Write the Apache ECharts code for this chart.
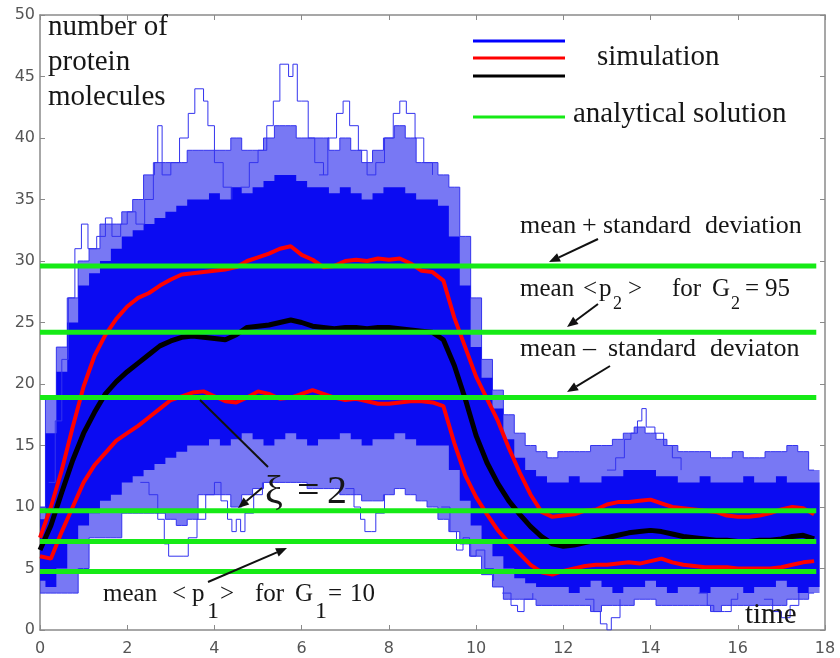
<!DOCTYPE html>
<html><head><meta charset="utf-8">
<script src="https://cdn.jsdelivr.net/npm/echarts@6/dist/echarts.min.js"></script>
<style>html,body{margin:0;padding:0;background:#fff}#c{width:840px;height:658px}</style>
</head><body><div id="c"></div><script>
// ---- data ----
const time = [0,0.25,0.5,0.75,1,1.25,1.5,1.75,2,2.25,2.5,2.75,3,3.25,3.5,3.75,4,4.25,4.5,4.75,5,5.25,5.5,5.75,6,6.25,6.5,6.75,7,7.25,7.5,7.75,8,8.25,8.5,8.75,9,9.25,9.5,9.75,10,10.25,10.5,10.75,11,11.25,11.5,11.75,12,12.25,12.5,12.75,13,13.25,13.5,13.75,14,14.25,14.5,14.75,15,15.25,15.5,15.75,16,16.25,16.5,16.75,17,17.25,17.5,17.75];
const meanSim = [6.5,8.5,11.2,13.8,16.0,17.7,19.2,20.2, 21.0,21.7,22.4,23.1,23.5,23.8,23.9,23.8, 23.7,23.6,24.0,24.6,24.7,24.8,25.0,25.2, 25.0,24.7,24.6,24.5,24.6,24.6,24.5,24.6, 24.6,24.5,24.4,24.3,24.2,23.6,21.5,18.8, 15.8,13.6,11.9,10.5,9.4,8.4,7.6,7.0, 6.8,6.9,7.1,7.3,7.5,7.7,7.9,8.0, 8.1,8.0,7.8,7.6,7.5,7.4,7.3,7.3, 7.2,7.2,7.3,7.3,7.4,7.6,7.7,7.4];
const upperSd = [7.5,10.0,13.0,16.5,19.8,22.3,24.0,25.3, 26.3,27.0,27.4,28.0,28.5,28.9,29.0,29.1, 29.2,29.3,29.5,30.0,30.3,30.6,31.0,31.2, 30.5,30.1,29.5,29.6,30.0,30.1,30.0,30.2, 30.1,30.2,29.8,29.2,29.1,28.4,25.4,23.0, 20.6,18.8,17.0,14.8,12.8,11.0,9.6,9.2, 9.3,9.4,9.7,9.8,10.2,10.4,10.4,10.5, 10.6,10.3,10.0,9.9,9.8,9.7,9.6,9.3, 9.2,9.2,9.3,9.5,9.8,10.0,9.9,9.4];
const lowerSd = [6.0,5.8,8.0,10.0,12.0,13.4,14.4,15.4, 16.0,16.6,17.3,18.0,18.7,19.0,19.3,19.4, 19.0,18.6,18.5,18.9,19.4,19.2,18.8,18.9, 19.2,19.5,19.2,18.9,18.7,18.8,18.6,18.4, 18.4,18.5,18.6,18.6,18.5,18.2,15.2,12.6, 10.8,9.4,8.1,7.1,6.2,5.3,4.7,4.5, 4.8,5.0,5.2,5.3,5.3,5.4,5.5,5.4, 5.6,5.8,5.5,5.3,5.2,5.1,5.1,5.1, 5.0,5.0,5.0,5.0,5.1,5.3,5.5,5.6];
// envelope of the dense (solid) part of the simulated trajectories
const denseHi = [9,16,21,25,28,29,30,31, 32,32.5,33,33.5,34,34.5,35,35, 35.5,35,36,35.5,36,36.5,37,37, 36.5,36,36,35.5,36,35.5,35,35.5, 36,36,35.5,35,35,34.5,32,28, 23,20.5,18,15.5,14,13,12.5,12, 12,12.5,12,12,12.5,12.5,13,13, 13,12.5,12.5,12,12,12.5,12,12, 12,12.5,12,12,12.5,12,12,12];
const denseLo = [4,3.5,5,7,8.5,9.5,10.5,11, 12,12.5,13,13.5,14,14.5,15,15, 15.5,15,15.5,16,15.5,15,15.5,16, 15.5,15,15.5,15.5,16,15.5,15,15.5, 15.5,16,15.5,15,15,15,13,10.5, 8.5,7,6,5,4.2,3.8,3.5,3.5, 3.5,3,3.5,4,3.5,3,3.5,3.5, 4,3.5,3,3.5,3.5,3,3.5,3.5, 3.5,3,3.5,3.5,4,3.5,3,3.5];
// envelope of the sparse (light) part of the trajectories
const lightHi = [10,19,23,27,30,31,33,33, 34,35,37,38,38,38,39,39, 39,39,40,39,39,40,41,41, 40,40,40,39,40,39,38,39, 40,41,40,38,38,37,36,32, 27,22,19.5,17.5,16,15,14.5,14, 14.5,14.5,14.5,15,15,15.5,16,16.5, 16,15.5,15,14.5,14.5,14.5,14,14, 14.5,14,14,14.5,14.5,15,14.5,13];
const lightLo = [3,3,3,3,5,7.5,7.5,7.5, 9.5,9.5,9.5,9.5,9,8.5,9,11, 11,11,10,11,11.5,12,12,12, 12,11.5,11.5,11.5,11,11,10.5,10.5, 11,11.5,11,10.5,10,9,8,7, 6,4.5,3.5,2.5,2.5,2.5,2,2, 2,2,2,1.5,2,2,2,2.5, 2.5,2,2,2,2,2,1.5,2, 2,2,2,2,2,2.5,2.5,3];
// single extreme trajectories (time, molecules)
const traceA = [[2.2,33],[2.4,35],[2.6,38],[2.7,41],[2.8,37],[3.0,38],[3.2,40],[3.4,42],[3.55,44],[3.75,43],[3.85,41],[4.0,38],[4.2,36],[4.4,35]];
const traceB = [[4.6,36],[4.8,38],[5.0,39],[5.2,41],[5.35,43],[5.5,46],[5.7,45],[5.8,46],[5.9,43],[6.0,43],[6.15,40],[6.3,38],[6.5,37]];
const traceC = [[6.4,37],[6.6,40],[6.8,42],[6.95,43],[7.1,41],[7.3,39],[7.5,37],[7.7,38],[7.9,40],[8.1,42],[8.25,43],[8.4,42],[8.6,40],[8.8,38],[9.0,37]];
const traceD = [[0.2,12],[0.35,17],[0.5,22],[0.65,27],[0.8,31],[0.95,33],[1.1,31],[1.3,32],[1.5,33.5],[1.65,32],[1.85,33],[2.0,34],[2.2,33]];
const traceE = [[2.3,12],[2.5,11],[2.7,9],[2.85,7],[2.95,6],[3.3,6],[3.4,7.5],[3.6,9],[3.8,11],[4.0,12]];
const traceF = [[4.0,12],[4.15,10.5],[4.3,9],[4.4,8],[4.5,9],[4.6,8],[4.7,9.5],[4.9,11],[5.1,12]];
const traceG = [[7.0,11.5],[7.2,10],[7.35,9],[7.45,8],[7.6,8],[7.7,9.5],[7.9,11]];
const traceH = [[9.2,10],[9.4,8],[9.55,6.5],[9.7,7.5],[9.85,6],[10.0,6.5],[10.2,5],[10.4,4]];
const traceI = [[13.0,13],[13.2,14],[13.4,15.5],[13.55,16],[13.7,17],[13.8,18],[13.9,16.5],[14.1,16],[14.3,15],[14.5,14],[14.7,13]];
const traceJ = [[12.5,2.5],[12.7,1.5],[12.85,0.5],[13.0,0],[13.1,1],[13.3,2.5]];
const traceK = [[15.1,3],[15.3,2],[15.45,1.5],[15.7,1.5],[15.85,2.5],[16.0,3]];
const traceL = [[16.6,2.5],[16.8,1.5],[17.0,1],[17.2,2],[17.4,3]];
const traceM = [[10.6,3],[10.8,2],[10.95,1.5],[11.1,2.5],[11.3,3]];
const singleTraces = [traceA,traceB,traceC,traceD,traceE,traceF,traceG,traceH,traceI,traceJ,traceK,traceL,traceM];
// analytical solution levels
const greenLevels = [29.6, 24.2, 18.9, 9.7, 7.2, 4.75];
const greenSpan = [0, 17.8];

// ---- build ----
const STEP = 0.25;
const pairs = ys => time.map((t,i)=>[t, ys[i]]);
const band = (lo,hi) => time.map((t,i)=>[t, lo[i], hi[i]]);
const BLUE = '#0b0bf2', LBLUE = '#3434ee';
// stepped band drawn as one polygon through the axis scales
function bandSeries(lo, hi, color, z){
  return {type:'custom', silent:true, z:z, clip:true, data:band(lo,hi), encode:{x:0, y:[1,2]},
    renderItem:(params, api)=>{
      if (params.dataIndex !== 0) return null;
      const top = [], bot = [];
      time.forEach((t,i)=>{
        top.push(api.coord([t-STEP/2, hi[i]]), api.coord([t+STEP/2, hi[i]]));
        bot.push(api.coord([t-STEP/2, lo[i]]), api.coord([t+STEP/2, lo[i]]));
      });
      return {type:'polygon', shape:{points: top.concat(bot.reverse())}, style:{fill:color}};
    }};
}
const series = [];
series.push(bandSeries(lightLo, lightHi, 'rgba(30,30,236,0.6)', 1));
series.push({type:'line', step:'middle', symbol:'none', silent:true, z:1, data:pairs(lightHi), lineStyle:{width:1,color:LBLUE}});
series.push({type:'line', step:'middle', symbol:'none', silent:true, z:1, data:pairs(lightLo), lineStyle:{width:1,color:LBLUE}});
series.push(bandSeries(denseLo, denseHi, BLUE, 2));
singleTraces.forEach(tr => series.push({type:'line', step:'end', symbol:'none', silent:true, z:3, data:tr, lineStyle:{width:1,color:LBLUE}}));
series.push({type:'line', symbol:'none', silent:true, z:4, data:pairs(upperSd), lineStyle:{width:4,color:'#ff0000'}});
series.push({type:'line', symbol:'none', silent:true, z:4, data:pairs(lowerSd), lineStyle:{width:4,color:'#ff0000'}});
series.push({type:'line', symbol:'none', silent:true, z:4, data:pairs(meanSim), lineStyle:{width:5,color:'#000000'}});
greenLevels.forEach(v => series.push({type:'line', symbol:'none', silent:true, z:5, data:[[greenSpan[0],v],[greenSpan[1],v]], lineStyle:{width:5,color:'#16ea16'}}));

const axisCol = '#8a8a8a';
const mkX = (pos, show) => ({type:'value', min:0, max:18, interval:2, position:pos,
  axisLine:{show:true, onZero:false, lineStyle:{color:axisCol, width:1.5}},
  axisTick:{show:true, inside:true, length:5, lineStyle:{color:axisCol}},
  axisLabel:{show:show, color:'#555', fontSize:16, fontFamily:'DejaVu Sans', margin:11},
  splitLine:{show:false}});
const mkY = (pos, show) => ({type:'value', min:0, max:50, interval:5, position:pos,
  axisLine:{show:true, onZero:false, lineStyle:{color:axisCol, width:1.5}},
  axisTick:{show:true, inside:true, length:5, lineStyle:{color:axisCol}},
  axisLabel:{show:show, color:'#555', fontSize:16, fontFamily:'DejaVu Sans', margin:5},
  splitLine:{show:false}});

const SERIF = '"Liberation Serif", "DejaVu Serif", serif';
const TXT = '#161616';
// text placed by its baseline
const txt = (x,base,t,size) => ({type:'text', x:x, y:base - 0.34*size, silent:true, z:100,
  style:{text:t, font:size+'px '+SERIF, fill:TXT, align:'left', verticalAlign:'middle'}});
const words = (base,size,list) => list.map(([t,x,s,dy]) => txt(x, base+(dy||0), t, s||size));
function arrow(x1,y1,x2,y2){
  const dx=x2-x1, dy=y2-y1, L=Math.hypot(dx,dy), ux=dx/L, uy=dy/L, hl=11, hw=4.5;
  const bx=x2-ux*hl, by=y2-uy*hl;
  return [{type:'line', silent:true, z:100, shape:{x1:x1,y1:y1,x2:bx,y2:by}, style:{stroke:'#111', lineWidth:2}},
          {type:'polygon', silent:true, z:100, shape:{points:[[x2,y2],[bx-uy*hw,by+ux*hw],[bx+uy*hw,by-ux*hw]]}, style:{fill:'#111'}}];
}
const legLine = (y,c) => ({type:'line', silent:true, z:100, shape:{x1:473,y1:y,x2:565,y2:y}, style:{stroke:c, lineWidth:3}});

const graphic = [
  txt(48,37,'number of',29), txt(48,72,'protein',29), txt(48,107,'molecules',29),
  legLine(41,'#0000ff'), legLine(58,'#ff0000'), legLine(76,'#000000'), legLine(117,'#16ea16'),
  txt(597,67,'simulation',29), txt(573,124,'analytical solution',29),
  ...words(235,26,[['mean',520],['+',582],['standard',603],['deviation',705]]),
  ...words(298,25,[['mean',520],['<',583],['p',599],['2',613,18,12],['>',628],['for',672],['G',712],['2',731,18,12],['=',745],['95',765]]),
  ...words(358,26,[['mean',520],['\u2013',583],['standard',608],['deviaton',710]]),
  ...words(506,40,[['\u03BE',265],['=',297],['2',327]]),
  ...words(603,25,[['mean',103],['<',172],['p',192],['1',207,24,17],['>',220],['for',255],['G',295],['1',315,24,17],['=',328],['10',350]]),
  txt(745,625,'time',29),
  {type:'line', silent:true, z:100, shape:{x1:200,y1:400,x2:268,y2:467}, style:{stroke:'#111', lineWidth:2}},
  ...arrow(598,239,549,262), ...arrow(598,304,567,327), ...arrow(610,366,567,392),
  ...arrow(208,582,287,548), ...arrow(262,488,238,508)
];

const chart = echarts.init(document.getElementById('c'), null, {renderer:'canvas'});
chart.setOption({
  animation:false,
  backgroundColor:'#ffffff',
  grid:{left:40, right:15, top:15, bottom:28, containLabel:false, outerBoundsMode:'none'},
  xAxis:[mkX('bottom',true), mkX('top',false)],
  yAxis:[mkY('left',true), mkY('right',false)],
  series:series,
  graphic:graphic
});
</script></body></html>
